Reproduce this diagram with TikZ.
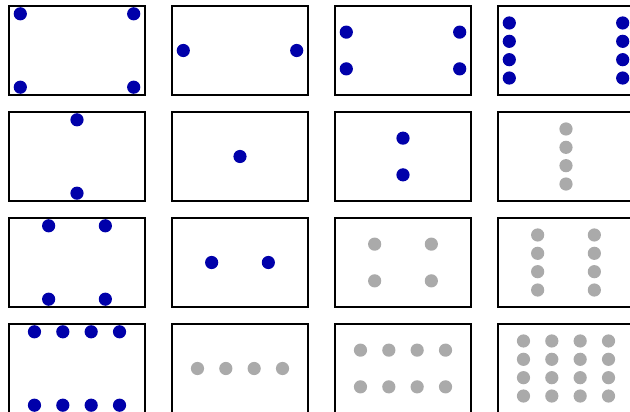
\documentclass[tikz,border=0pt]{standalone}
\usepackage{xcolor}
\usepackage{tikz}

\definecolor{dotblue}{RGB}{0,0,170}
\definecolor{dotgray}{RGB}{170,170,170}

% one framed panel: column, row, x values, y values, colour
\newcommand{\gridpanel}[5]{%
  \begin{scope}[shift={(9+163*#1,6+106*#2)}]
    \draw[line width = 0.8pt] (0,0) rectangle (136,89);
    \foreach \px in {#3}
      \foreach \py in {#4}
        \fill[#5] (68+56.7*\px,44.5-36.7*\py) circle (6.6);
  \end{scope}}

\begin{document}
\begin{tikzpicture}[x=0.02cm,y=-0.02cm]
    \useasboundingbox (0,0) rectangle (630,412);
    \clip (0,0) rectangle (630,412);

    % First row
    \gridpanel{0}{0}{-1,1}{-1,1}{dotblue}
    \gridpanel{1}{0}{-1,1}{0}{dotblue}
    \gridpanel{2}{0}{-1,1}{-0.5,0.5}{dotblue}
    \gridpanel{3}{0}{-1,1}{-0.75,-0.25,0.25,0.75}{dotblue}

    % Second row
    \gridpanel{0}{1}{0}{-1,1}{dotblue}
    \gridpanel{1}{1}{0}{0}{dotblue}
    \gridpanel{2}{1}{0}{-0.5,0.5}{dotblue}
    \gridpanel{3}{1}{0}{-0.75,-0.25,0.25,0.75}{dotgray}

    % Third row
    \gridpanel{0}{2}{-0.5,0.5}{-1,1}{dotblue}
    \gridpanel{1}{2}{-0.5,0.5}{0}{dotblue}
    \gridpanel{2}{2}{-0.5,0.5}{-0.5,0.5}{dotgray}
    \gridpanel{3}{2}{-0.5,0.5}{-0.75,-0.25,0.25,0.75}{dotgray}

    % Fourth row
    \gridpanel{0}{3}{-0.75,-0.25,0.25,0.75}{-1,1}{dotblue}
    \gridpanel{1}{3}{-0.75,-0.25,0.25,0.75}{0}{dotgray}
    \gridpanel{2}{3}{-0.75,-0.25,0.25,0.75}{-0.5,0.5}{dotgray}
    \gridpanel{3}{3}{-0.75,-0.25,0.25,0.75}{-0.75,-0.25,0.25,0.75}{dotgray}
\end{tikzpicture}
\end{document}
